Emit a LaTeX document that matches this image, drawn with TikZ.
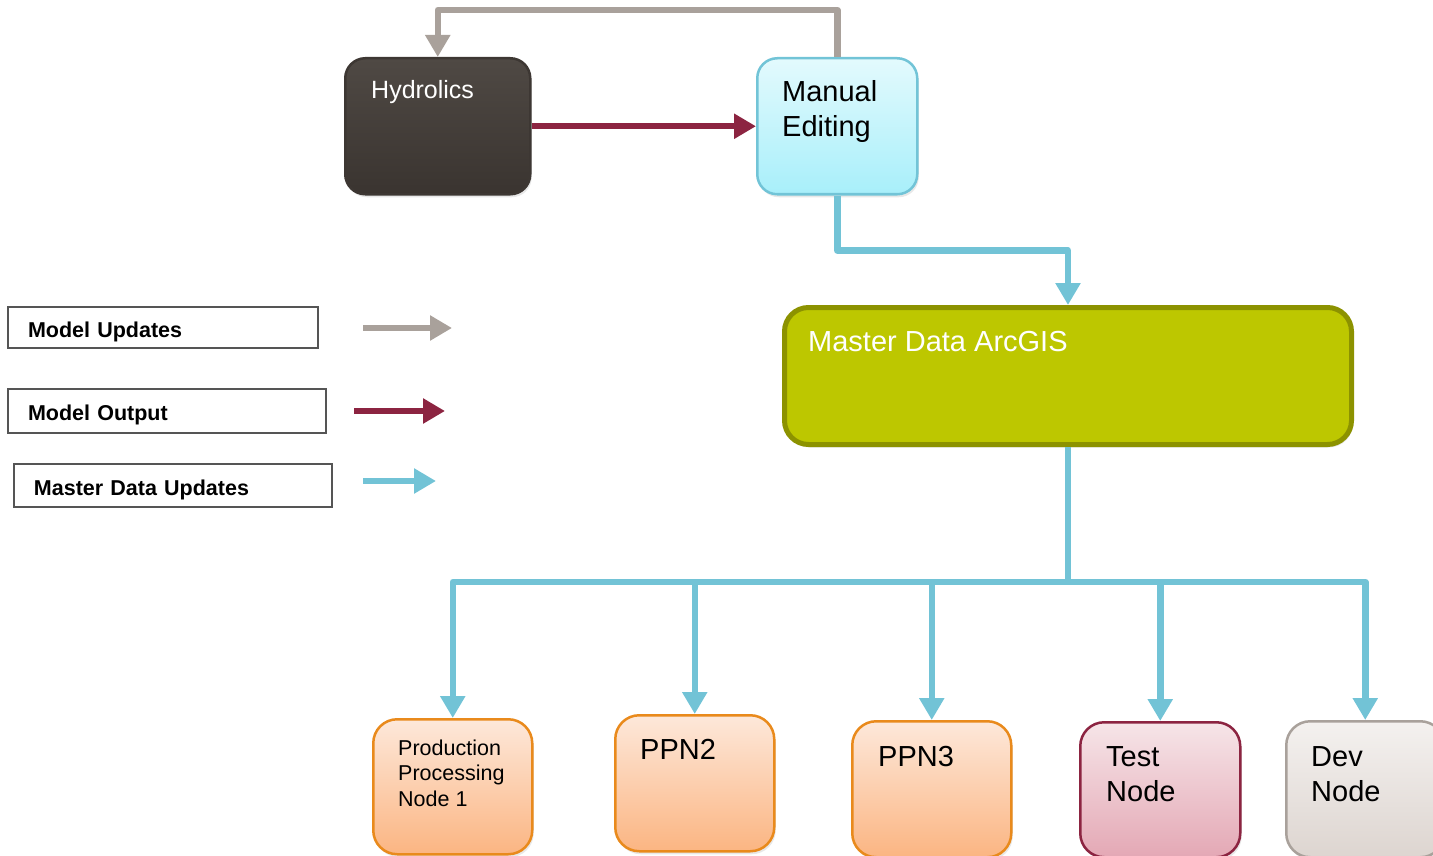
\documentclass[tikz,border=0pt]{standalone}
\usepackage{fontspec}
\setmainfont{Liberation Sans}
\usetikzlibrary{arrows.meta,calc,shadows}
\definecolor{hydtop}{HTML}{4F4944}
\definecolor{hydbot}{HTML}{3A3430}
\definecolor{hydline}{HTML}{3D3733}
\definecolor{mantop}{HTML}{E3FAFD}
\definecolor{manbot}{HTML}{A8EFFA}
\definecolor{manline}{HTML}{72C4D7}
\definecolor{mastfill}{HTML}{BDC700}
\definecolor{mastline}{HTML}{8C9200}
\definecolor{orgtop}{HTML}{FDE8DA}
\definecolor{orgbot}{HTML}{FBB582}
\definecolor{orgline}{HTML}{E98A1C}
\definecolor{tsttop}{HTML}{F6E5E8}
\definecolor{tstbot}{HTML}{E4A8B5}
\definecolor{tstline}{HTML}{8C2441}
\definecolor{devtop}{HTML}{F4F1EF}
\definecolor{devbot}{HTML}{DDD5D0}
\definecolor{devline}{HTML}{A9A19B}
\definecolor{cgray}{HTML}{A9A19B}
\definecolor{cred}{HTML}{8C2441}
\definecolor{cblue}{HTML}{72C3D6}
\definecolor{legline}{HTML}{555555}
\begin{document}
\begin{tikzpicture}[x=1pt,y=-1pt,
  box/.style={draw, anchor=north west, inner sep=0pt, line width=2.5pt,
    rounded corners=24pt, shading=axis,
    drop shadow={opacity=0.18, shadow xshift=1.5pt, shadow yshift=-3pt}},
  hydbox/.style={box, draw=hydline, top color=hydtop, bottom color=hydbot, rounded corners=20pt},
  manbox/.style={box, draw=manline, top color=mantop, bottom color=manbot, rounded corners=20pt},
  mastbox/.style={draw=mastline, fill=mastfill, anchor=north west, inner sep=0pt,
    line width=5pt, rounded corners=24pt,
    drop shadow={opacity=0.18, shadow xshift=1.5pt, shadow yshift=-3pt}},
  orgbox/.style={box, draw=orgline, top color=orgtop, bottom color=orgbot},
  tstbox/.style={box, draw=tstline, top color=tsttop, bottom color=tstbot},
  devbox/.style={box, draw=devline, top color=devtop, bottom color=devbot},
  bigtxt/.style={anchor=base west, inner sep=0pt, align=left,
    font=\fontsize{29}{35}\selectfont},
  smalltxt/.style={anchor=base west, inner sep=0pt, align=left,
    font=\fontsize{21.5}{25.5}\selectfont},
  legbox/.style={draw=legline, line width=2pt, anchor=north west, inner xsep=20pt,
    inner ysep=0pt, align=left, text height=19pt, text depth=0pt,
    font=\bfseries\fontsize{21.5}{25}\selectfont},
  tip/.style={-{Triangle[width=24pt,length=22pt]}},
  conn/.style={line width=6.5pt, line join=round, tip},
  grayconn/.style={conn, draw=cgray},
  redconn/.style={conn, draw=cred},
  blueconn/.style={conn, draw=cblue},
]
\useasboundingbox (0,0) rectangle (1433,856);

% main boxes
\node[hydbox, minimum width=185, minimum height=136] (hyd) at (344,57) {};
\node[manbox, minimum width=160, minimum height=136] (man) at (756,57) {};
\node[mastbox, minimum width=567, minimum height=137] (mast) at (782,305) {};
\node[orgbox, minimum width=159, minimum height=135] (p1) at (372,718) {};
\node[orgbox, minimum width=159, minimum height=136] (p2) at (614,714) {};
\node[orgbox, minimum width=159, minimum height=136] (p3) at (851,720) {};
\node[tstbox, minimum width=160, minimum height=135] (tst) at (1079,721) {};
\node[devbox, minimum width=158, minimum height=136] (dev) at (1285,720) {};

% texts (base anchor = baseline of the last line)
\node[bigtxt, text=white, font=\fontsize{25}{30}\selectfont] (hydt) at (371,99) {Hydrolics};
\node[bigtxt] (mant) at (782,137) {Manual\\Editing};
\node[bigtxt, text=white] (mastt) at (808,351) {Master Data ArcGIS};
\node[smalltxt] (p1t) at (398,806) {Production\\Processing\\Node 1};
\node[bigtxt] (p2t) at (640,759) {PPN2};
\node[bigtxt] (p3t) at (878,766) {PPN3};
\node[bigtxt] (tstt) at (1106,801) {Test\\Node};
\node[bigtxt] (devt) at (1311,801) {Dev\\Node};

% connectors
\draw[grayconn] (man.north) |- ($(hyd.north)+(0,-47)$) -- (hyd.north);
\draw[redconn] (hyd.east) -- (man.west);
\draw[blueconn] (man.south) -- ($(man.south)+(0,55)$) -| (mast.north);
\coordinate (bus) at ($(mast.south)+(0,135)$);
\draw[blueconn] (mast.south) -- (bus) -| (p1.north);
\draw[blueconn] (mast.south) -- (bus) -| (p2.north);
\draw[blueconn] (mast.south) -- (bus) -| (p3.north);
\draw[blueconn] (mast.south) -- (bus) -| (tst.north);
\draw[blueconn] (mast.south) -- (bus) -| (dev.north);

% legend
\node[legbox, minimum width=310, minimum height=41, text width=270] (lg1) at (7,306) {Model Updates};
\node[legbox, minimum width=318, minimum height=44, text width=278] (lg2) at (7,388) {Model Output};
\node[legbox, minimum width=318, minimum height=43, text width=278] (lg3) at (13,463) {Master Data Updates};
\coordinate (la1) at (363,328); \coordinate (la2) at (452,328);
\coordinate (lb1) at (354,411); \coordinate (lb2) at (445,411);
\coordinate (lc1) at (363,481); \coordinate (lc2) at (436,481);
\draw[grayconn] (la1) -- (la2);
\draw[redconn] (lb1) -- (lb2);
\draw[blueconn] (lc1) -- (lc2);
\end{tikzpicture}
\end{document}
